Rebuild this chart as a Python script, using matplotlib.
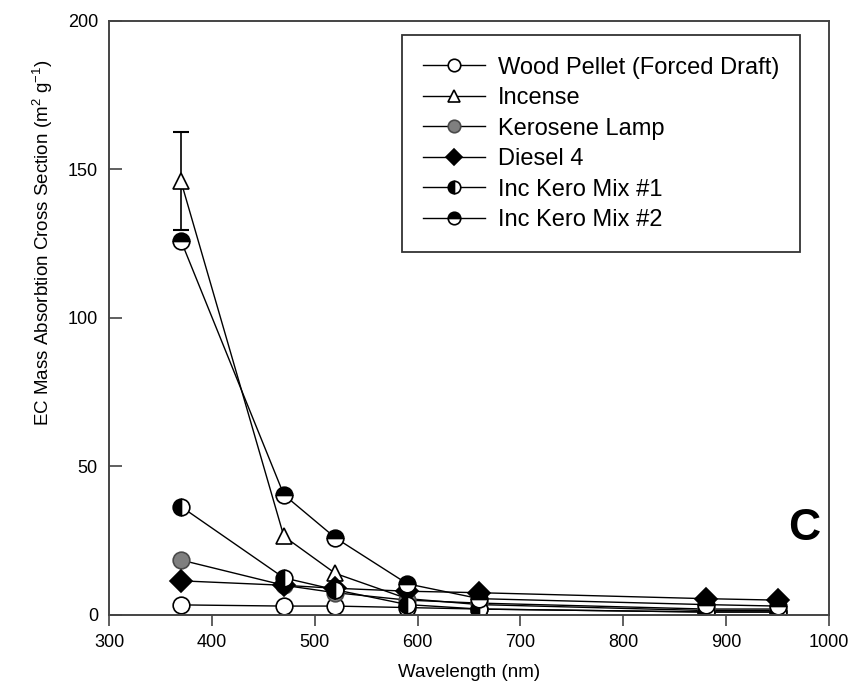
import matplotlib
matplotlib.use("Agg")
import matplotlib.pyplot as plt

plt.rcParams["font.family"] = ["Liberation Sans", "DejaVu Sans"]
plt.rcParams["mathtext.default"] = "regular"

wavelength = [370, 470, 520, 590, 660, 880, 950]

wood_pellet = [3.4, 3.0, 3.0, 2.5, 2.0, 1.0, 1.0]
incense = [146.0, 26.5, 14.0, 5.5, 3.5, 1.5, 1.5]
incense_err = [16.5, 0, 0, 0, 0, 0, 0]
kerosene = [18.5, 10.0, 7.5, 5.0, 4.0, 2.0, 2.0]
diesel = [11.5, 10.0, 9.0, 8.0, 7.5, 5.5, 5.0]
mix1 = [36.5, 12.5, 8.5, 3.5, 2.0, 1.0, 1.0]
mix2 = [126.0, 40.5, 26.0, 10.5, 5.5, 3.5, 3.0]

fig = plt.figure(figsize=(8.61, 6.84), dpi=100)
ax = fig.add_axes([0.1266, 0.1009, 0.8362, 0.8684])

ms = 12
common = dict(color="black", lw=1.0, markersize=ms, markeredgewidth=1.2,
              markeredgecolor="black")

ax.plot(wavelength, wood_pellet, marker="o", markerfacecolor="white",
        label="Wood Pellet (Forced Draft)", **common)
ax.errorbar(wavelength[:1], incense[:1], yerr=[[incense_err[0]], [incense_err[0]]],
            fmt="none", ecolor="black", elinewidth=1.2, capsize=5.5, capthick=1.5)
ax.plot(wavelength, incense, marker="^", markerfacecolor="white",
        label="Incense", **common)
ax.plot(wavelength, kerosene, marker="o", markerfacecolor="#7f7f7f",
        label="Kerosene Lamp", **dict(common, markeredgecolor="#4a4a4a"))
ax.plot(wavelength, diesel, marker="D", markerfacecolor="black",
        label="Diesel 4", **dict(common, markersize=ms * 0.9))
ax.plot(wavelength, mix1, marker="o", fillstyle="left", markerfacecolor="black",
        markerfacecoloralt="white", label="Inc Kero Mix #1", **common)
ax.plot(wavelength, mix2, marker="o", fillstyle="top", markerfacecolor="black",
        markerfacecoloralt="white", label="Inc Kero Mix #2", **common)

ax.set_xlim(300, 1000)
ax.set_ylim(0, 200)
ax.set_xticks(range(300, 1001, 100))
ax.set_yticks(range(0, 201, 50))
ax.tick_params(axis="x", direction="out", length=8, width=1.2, labelsize=13,
               pad=6, color="#444444")
ax.tick_params(axis="y", direction="in", length=9, width=1.2, labelsize=13,
               pad=8, color="#444444")
for sp in ax.spines.values():
    sp.set_color("#444444")
    sp.set_linewidth(1.4)

ax.set_xlabel("Wavelength (nm)", fontsize=13.5, labelpad=9)
ax.set_ylabel("EC Mass Absorbtion Cross Section (m$^2$ g$^{-1}$)", fontsize=13.5)
ax.yaxis.set_label_coords(-0.075, 0.626)

ax.text(976, 29, "C", fontsize=32, fontweight="bold", ha="center", va="center")

leg = ax.legend(loc="upper right", bbox_to_anchor=(0.96, 0.976), borderaxespad=0,
                fontsize=17, numpoints=1, markerscale=0.75, handlelength=2.6,
                handletextpad=0.55, labelspacing=0.36, borderpad=0.9,
                fancybox=False, framealpha=1)
leg.get_frame().set_edgecolor("#333333")
leg.get_frame().set_linewidth(1.3)

fig.savefig("out.png", dpi=100)
